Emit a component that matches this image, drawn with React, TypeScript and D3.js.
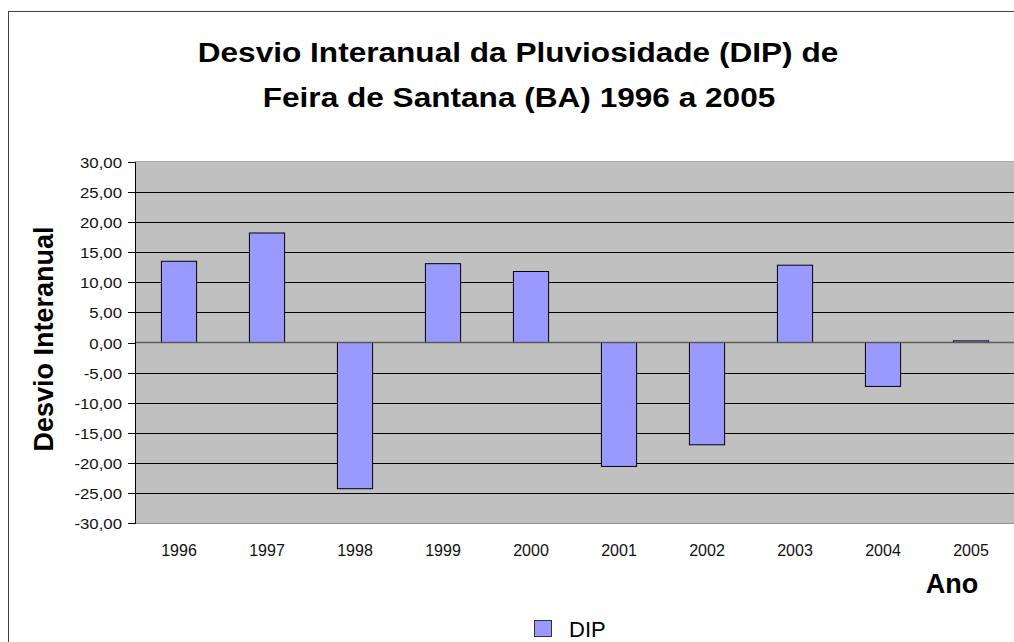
import React from 'react';
import { scaleBand, scaleLinear } from 'd3';

const years = ['1996', '1997', '1998', '1999', '2000', '2001', '2002', '2003', '2004', '2005'];
const dip = [13.5, 18.2, -24.3, 13.1, 11.8, -20.6, -17.0, 12.85, -7.3, 0.27];
const yTicks = [30, 25, 20, 15, 10, 5, 0, -5, -10, -15, -20, -25, -30];

const W = 1014;
const H = 642;
const margin = { top: 162, right: -1, bottom: 119, left: 135 };

const fmt = (v: number) => v.toFixed(2).replace('.', ',');

const App = () => {
  const xRange = [margin.left, W - margin.right];
  const yRange = [H - margin.bottom, margin.top];

  const xScale = scaleBand<string>().domain(years).range(xRange as [number, number])
    .paddingInner(0.6).paddingOuter(0.3);
  const yScale = scaleLinear().domain([-30, 30]).range(yRange);

  return (
    <svg width={W} height={H} style={{ position: 'absolute', left: 0, top: 0, fontFamily: 'Arial, "Liberation Sans", sans-serif' }}>
      <rect x={0} y={0} width={W} height={H} fill="white" />
      <rect x={8.5} y={11.5} width={W + 10} height={H + 10} fill="none" stroke="#404040" strokeWidth={1} />

      {/* title */}
      <g transform="translate(518, 62) scale(1.17, 1)">
        <text textAnchor="middle" fontSize={27} fontWeight="bold">Desvio Interanual da Pluviosidade (DIP) de</text>
      </g>
      <g transform="translate(519, 107) scale(1.17, 1)">
        <text textAnchor="middle" fontSize={27} fontWeight="bold">Feira de Santana (BA) 1996 a 2005</text>
      </g>

      {/* plot area */}
      <rect x={xRange[0]} y={yRange[1]} width={xRange[1] - xRange[0]} height={yRange[0] - yRange[1]}
        fill="#C0C0C0" />
      {yTicks.map(t => {
        const y = Math.round(yScale(t)) + 0.5;
        const edge = t === 30 || t === -30;
        return (
          <g key={t}>
            {!edge && t !== 0 && (
              <line x1={xRange[0]} x2={xRange[1]} y1={y} y2={y} stroke="black" />
            )}
            <line x1={xRange[0] - 7} x2={xRange[0]} y1={y} y2={y} stroke="black" />
            <g transform={`translate(122, ${y + 5}) scale(1.2, 1)`}>
              <text textAnchor="end" fontSize={14} fill="#111">{fmt(t)}</text>
            </g>
          </g>
        );
      })}
      <line x1={xRange[0]} x2={xRange[1]} y1={yRange[1] - 0.5} y2={yRange[1] - 0.5} stroke="#a8a8a8" />
      <line x1={xRange[0]} x2={xRange[1]} y1={yRange[0] + 0.5} y2={yRange[0] + 0.5} stroke="#909090" />

      {years.map((yr, i) => {
        const v = dip[i];
        const y0 = yScale(0);
        const y1 = yScale(v);
        return (
          <rect key={yr} x={xScale(yr)} y={Math.min(y0, y1)} width={xScale.bandwidth()}
            height={Math.abs(y1 - y0)} fill="#9999FF" stroke="black" strokeWidth={1} />
        );
      })}
      <line x1={xRange[0]} x2={xRange[1]} y1={yScale(0)} y2={yScale(0)} stroke="#5a5a5a" strokeWidth={1.5} />
      <line x1={xRange[0] + 0.5} x2={xRange[0] + 0.5} y1={yRange[1]} y2={yRange[0] + 1} stroke="black" />

      {/* x labels */}
      {years.map(yr => (
        <text key={yr} x={(xScale(yr) as number) + xScale.bandwidth() / 2} y={556}
          textAnchor="middle" fontSize={16} fill="#111">{yr}</text>
      ))}

      {/* axis titles */}
      <text transform="translate(53, 339) rotate(-90)" textAnchor="middle" fontSize={27} fontWeight="bold">Desvio Interanual</text>
      <text x={952} y={593} textAnchor="middle" fontSize={27} fontWeight="bold">Ano</text>

      {/* legend */}
      <rect x={534.5} y={620.5} width={17} height={16} fill="#9999FF" stroke="#333" />
      <text x={569} y={637} fontSize={22}>DIP</text>
    </svg>
  );
};

export default App;
